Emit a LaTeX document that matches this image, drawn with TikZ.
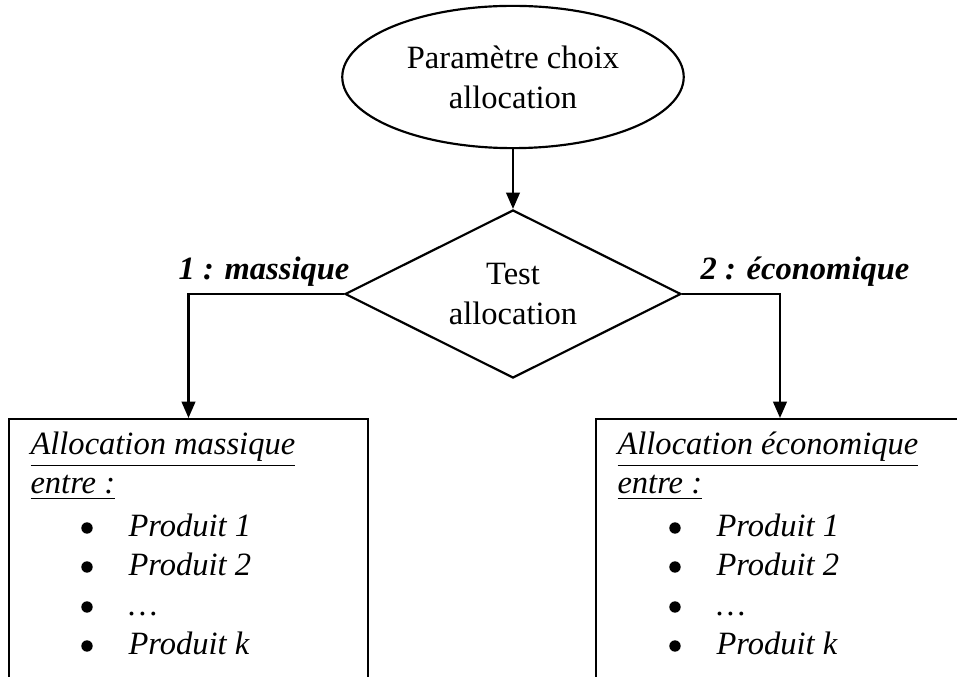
\documentclass[tikz,border=0pt]{standalone}
\usepackage{fontspec}
\setmainfont{Liberation Serif}
\usepackage{tikz}
\usetikzlibrary{shapes.geometric,arrows.meta}
\definecolor{ink}{HTML}{000000}
\tikzset{
  base/.style={draw=ink, line width=0.8pt},
  arr/.style={draw=ink, line width=0.8pt, -{Triangle[length=6pt,width=5pt]}},
  term/.style={base, ellipse, inner sep=0pt, minimum width=126pt, minimum height=52.5pt, align=center},
  decide/.style={base, diamond, aspect=2, inner sep=0pt, minimum width=124pt, minimum height=62pt, align=center},
  box/.style={base, rectangle, inner sep=0pt, anchor=north, minimum height=120pt},
  dot/.style={circle, fill=ink, inner sep=0pt, minimum size=4.2pt},
  lab/.style={text=ink, font=\fontsize{12}{14.8}\selectfont},
  labi/.style={text=ink, inner sep=0pt, anchor=base west, font=\fontsize{12}{14.8}\selectfont\itshape},
  labb/.style={text=ink, anchor=base, font=\fontsize{12}{14.8}\selectfont\bfseries\itshape},
}
\begin{document}
\begin{tikzpicture}[x=0.369pt, y=-0.369pt, font=\fontsize{12}{14.8}\selectfont]
  \useasboundingbox[fill=white] (0,0) rectangle (957,677);
  \clip (0,0) rectangle (957,677);
  \node[term] (param) at (513,77) {Paramètre choix\\allocation};
  \node[decide] (test) at (513,294) {Test\\allocation};
  \node[box, minimum width=132.5pt] (massbox) at (188.5,418) {};
  \node[box, minimum width=135.8pt] (ecobox) at (780,418) {};
  \draw[arr] (param.south) -- (test.north);
  \draw[arr] (test.west) -| (massbox.north);
  \draw[arr] (test.east) -| (ecobox.north);
  \node[labb] (masslab) at (264,280) {1 : massique};
  \node[labb] (ecolab) at (805,280) {2 : économique};
  % box contents
  \node[labi] (massT) at (30,455) {\underline{Allocation massique}};
  \node[labi] (massE) at (30,494) {\underline{entre :}};
  \node[labi] (ecoT) at (617,455) {\underline{Allocation économique}};
  \node[labi] (ecoE) at (617,494) {\underline{entre :}};
  \foreach \bx/\nm in {0/mass, 588/eco}
    \foreach \y/\t [count=\i] in {537/Produit 1, 576/Produit 2, 616/\ldots, 655/Produit k} {
      \node[dot] (\nm dot\i) at (87+\bx,\y-9) {};
      \node[labi] (\nm item\i) at (128+\bx,\y) {\t};
    }
\end{tikzpicture}
\end{document}
